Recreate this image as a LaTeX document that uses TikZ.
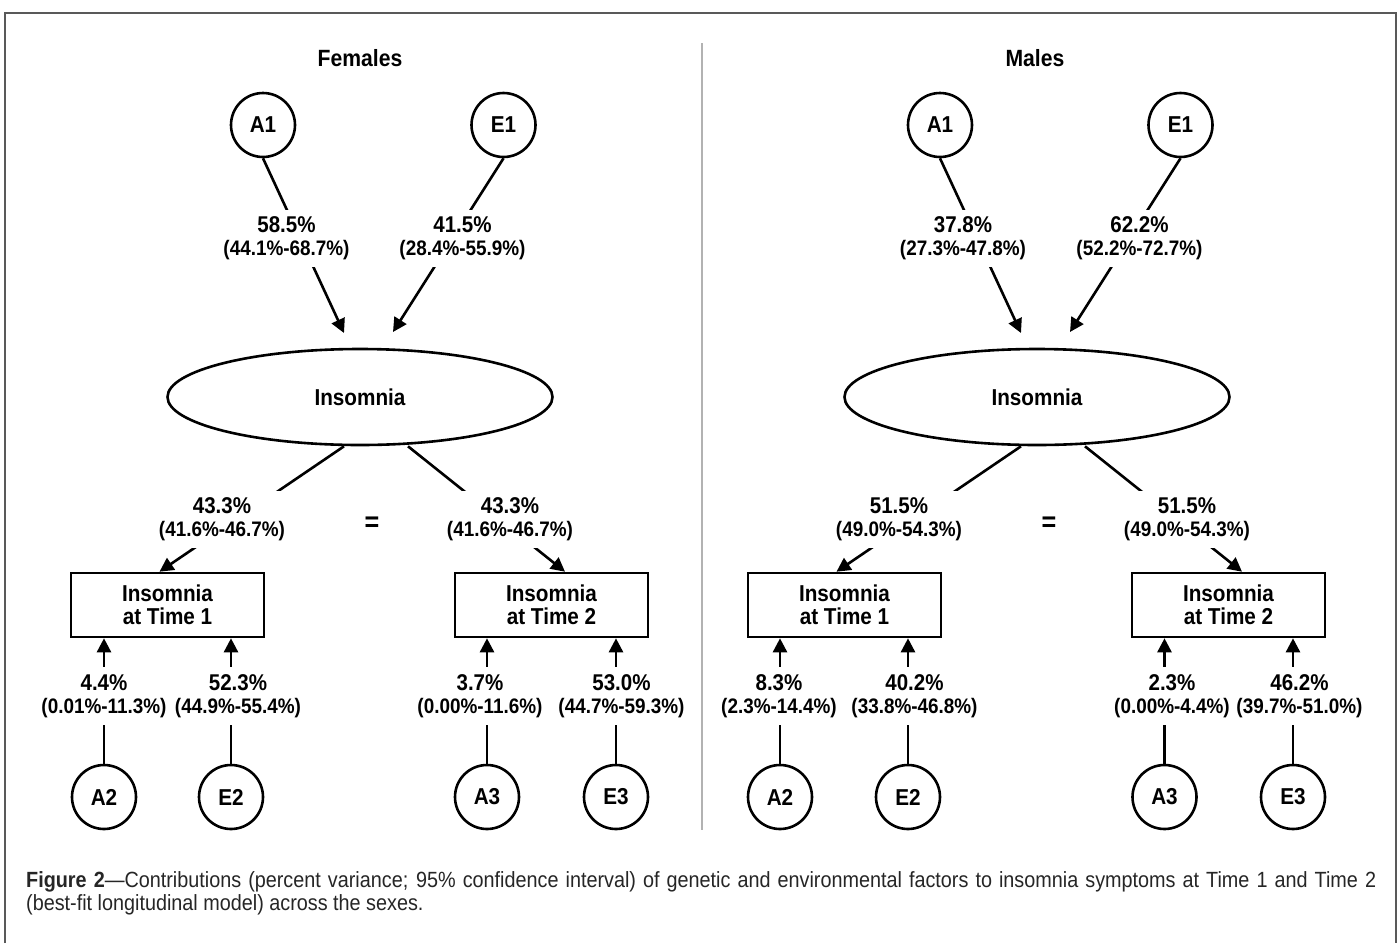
\documentclass[tikz,border=0pt]{standalone}
\usepackage{fontspec}
\setmainfont{Liberation Sans}[FakeStretch=0.9]
\usetikzlibrary{arrows.meta,shapes.geometric,calc}
\newcommand\cilab[1]{{\fontsize{21}{23}\selectfont #1}}
\begin{document}
\begin{tikzpicture}[x=1pt,y=-1pt,
  ln/.style={line width=2.6pt,black},
  arr/.style={ln,-{Triangle[length=14pt,width=14pt]}},
  latent/.style={circle,draw,ln,minimum size=64pt,inner sep=0pt,font=\fontsize{23}{25}\selectfont\bfseries},
  obs/.style={rectangle,draw,ln,fill=white,minimum width=193pt,minimum height=64pt,align=center,inner sep=0pt,font=\fontsize{23}{23}\selectfont\bfseries},
  fac/.style={ellipse,draw,ln,minimum width=385pt,minimum height=96pt,inner sep=0pt,font=\fontsize{23}{25}\selectfont\bfseries},
  lab/.style={fill=white,align=center,inner xsep=1pt,inner ysep=7pt,font=\fontsize{22.8}{23}\selectfont\bfseries},
  ttl/.style={font=\fontsize{23.5}{25}\selectfont\bfseries},
  eqs/.style={font=\fontsize{28}{30}\selectfont\bfseries},
  frame/.style={draw=black!65,line width=2pt},
  divider/.style={draw=black!30,line width=1.6pt},
  captxt/.style={anchor=base west,inner sep=0pt,text=black!85,font=\fontsize{22}{23}\selectfont},
]
\useasboundingbox (0,0) rectangle (1398,943);
\fill[white] (0,0) rectangle (1398,943);
% frame and divider
\draw[frame] (5,943) -- (5,12.5) -- (1396,12.5) -- (1396,943);
\draw[divider] (702,43) -- (702,830);

% ================= Females =================
\node[ttl] (fT) at (360,58) {Females};
\node[latent] (fA1) at (263,125) {A1};
\node[latent] (fE1) at (503.5,125) {E1};
\node[fac] (fI) at (360,397) {Insomnia};
\node[obs] (fB1) at (167.5,605) {Insomnia\\at Time 1};
\node[obs] (fB2) at (551.5,605) {Insomnia\\at Time 2};
\node[latent] (fA2) at (104,797) {A2};
\node[latent] (fE2) at (231,797) {E2};
\node[latent] (fA3) at (487,797) {A3};
\node[latent] (fE3) at (616,797) {E3};
\node[eqs] (fEq) at (372,524) {=};
\coordinate (fA1t) at (344,333);
\coordinate (fE1t) at (393,332);

\draw[arr] (fA1.south) -- (fA1t);
\draw[arr] (fE1.south) -- (fE1t);
\draw[arr] ($(fI.south)+(-16,0)$) -- ($(fB1.north)+(-8,0)$);
\draw[arr] ($(fI.south)+(48,0)$) -- ($(fB2.north)+(13.5,0)$);
\draw[arr] (fA2) -- (fA2 |- fB1.south);
\draw[arr] (fE2) -- (fE2 |- fB1.south);
\draw[arr] (fA3) -- (fA3 |- fB2.south);
\draw[arr] (fE3) -- (fE3 |- fB2.south);

\node[lab] (fLA1) at (286.5,238.5) {58.5\%\\\cilab{(44.1\%-68.7\%)}};
\node[lab] (fLE1) at (462.5,238.5) {41.5\%\\\cilab{(28.4\%-55.9\%)}};
\node[lab] (fL1) at (222,519.5) {43.3\%\\\cilab{(41.6\%-46.7\%)}};
\node[lab] (fL2) at (510,519.5) {43.3\%\\\cilab{(41.6\%-46.7\%)}};
\node[lab] (fLA2) at (104,696) {4.4\%\\\cilab{(0.01\%-11.3\%)}};
\node[lab] (fLE2) at (238,696) {52.3\%\\\cilab{(44.9\%-55.4\%)}};
\node[lab] (fLA3) at (480,696) {3.7\%\\\cilab{(0.00\%-11.6\%)}};
\node[lab] (fLE3) at (621.5,696) {53.0\%\\\cilab{(44.7\%-59.3\%)}};

% ================= Males =================
\node[ttl] (mT) at (1035,58) {Males};
\node[latent] (mA1) at (940,125) {A1};
\node[latent] (mE1) at (1180.5,125) {E1};
\node[fac] (mI) at (1037,397) {Insomnia};
\node[obs] (mB1) at (844.5,605) {Insomnia\\at Time 1};
\node[obs] (mB2) at (1228.5,605) {Insomnia\\at Time 2};
\node[latent] (mA2) at (780,797) {A2};
\node[latent] (mE2) at (908,797) {E2};
\node[latent] (mA3) at (1164.5,797) {A3};
\node[latent] (mE3) at (1293,797) {E3};
\node[eqs] (mEq) at (1049,524) {=};
\coordinate (mA1t) at (1021,333);
\coordinate (mE1t) at (1070,332);

\draw[arr] (mA1.south) -- (mA1t);
\draw[arr] (mE1.south) -- (mE1t);
\draw[arr] ($(mI.south)+(-16,0)$) -- ($(mB1.north)+(-8,0)$);
\draw[arr] ($(mI.south)+(48,0)$) -- ($(mB2.north)+(13.5,0)$);
\draw[arr] (mA2) -- (mA2 |- mB1.south);
\draw[arr] (mE2) -- (mE2 |- mB1.south);
\draw[arr] (mA3) -- (mA3 |- mB2.south);
\draw[arr] (mE3) -- (mE3 |- mB2.south);

\node[lab] (mLA1) at (963,238.5) {37.8\%\\\cilab{(27.3\%-47.8\%)}};
\node[lab] (mLE1) at (1139.5,238.5) {62.2\%\\\cilab{(52.2\%-72.7\%)}};
\node[lab] (mL1) at (899,519.5) {51.5\%\\\cilab{(49.0\%-54.3\%)}};
\node[lab] (mL2) at (1187,519.5) {51.5\%\\\cilab{(49.0\%-54.3\%)}};
\node[lab] (mLA2) at (779,696) {8.3\%\\\cilab{(2.3\%-14.4\%)}};
\node[lab] (mLE2) at (914.5,696) {40.2\%\\\cilab{(33.8\%-46.8\%)}};
\node[lab] (mLA3) at (1172,696) {2.3\%\\\cilab{(0.00\%-4.4\%)}};
\node[lab] (mLE3) at (1299.5,696) {46.2\%\\\cilab{(39.7\%-51.0\%)}};

% ================= Caption =================
\node[captxt] (cap1) at (26,887) {\makebox[1350pt][s]{\textbf{Figure 2}—Contributions (percent variance; 95\% confidence interval) of genetic and environmental factors to insomnia symptoms at Time 1 and Time 2}};
\node[captxt] (cap2) at (26,910) {(best-fit longitudinal model) across the sexes.};
\end{tikzpicture}
\end{document}
